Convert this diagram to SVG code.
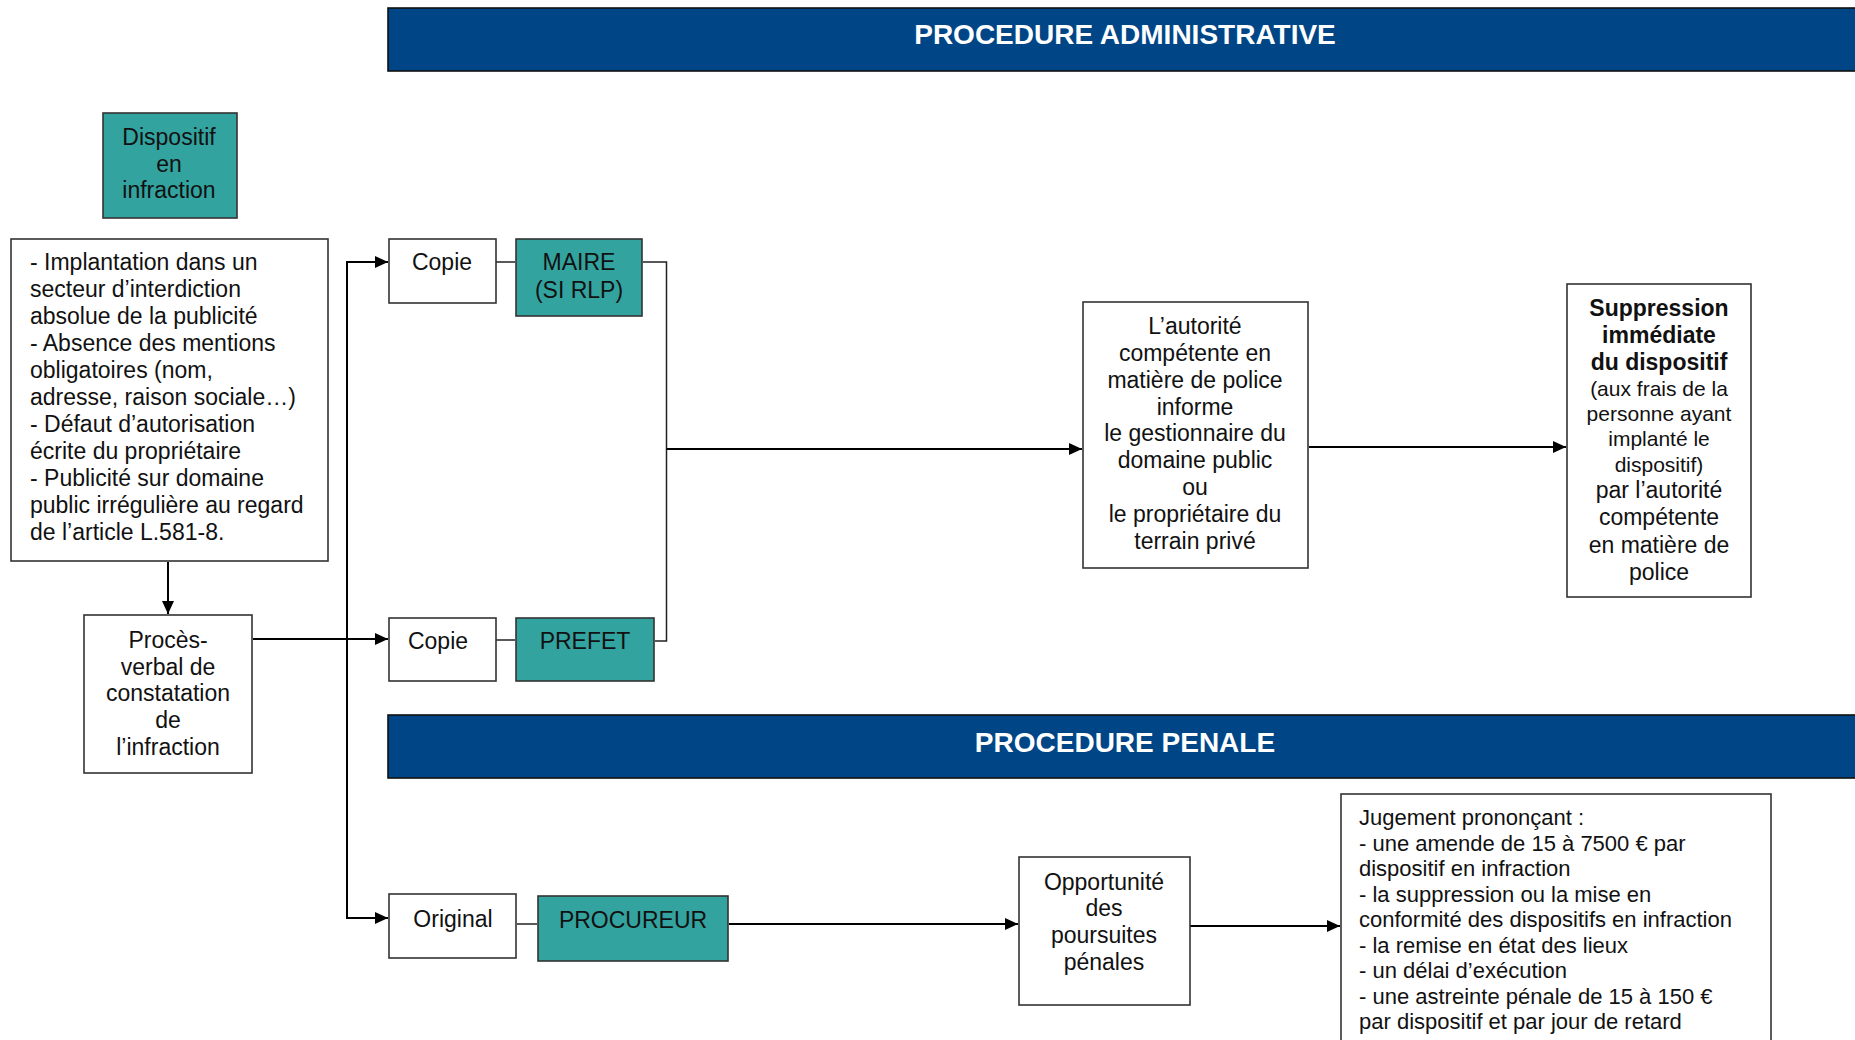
<svg xmlns="http://www.w3.org/2000/svg" width="1855" height="1040" viewBox="0 0 1855 1040">
<defs>
<marker id="arr" markerUnits="userSpaceOnUse" markerWidth="14" markerHeight="14" refX="13" refY="7" orient="auto">
<path d="M0,1 L13,7 L0,13 Z" fill="#000"/>
</marker>
<style>
.box{fill:#fff;stroke:#333;stroke-width:1.6}
.teal{fill:#33A39F;stroke:#333;stroke-width:1.6}
.ban{fill:#004687;stroke:#111;stroke-width:1.6}
.t{font-family:"Liberation Sans",Arial,sans-serif;font-size:23px;fill:#111}
.c{text-anchor:middle}
.b{font-weight:bold}
.sm{font-size:21px}
.j{font-size:22px}
.bt{font-family:"Liberation Sans",Arial,sans-serif;font-size:28px;font-weight:bold;fill:#fff;text-anchor:middle}
.ln{fill:none;stroke:#000;stroke-width:2}
.thin{fill:none;stroke:#222;stroke-width:1.5}
</style>
</defs>
<rect width="1855" height="1040" fill="#fff"/>

<g id="banner-admin">
<rect class="ban" x="388" y="8" width="1470" height="63"/>
<text class="bt" x="1125" y="44">PROCEDURE ADMINISTRATIVE</text>
</g>
<g id="banner-penale">
<rect class="ban" x="388" y="715" width="1470" height="63"/>
<text class="bt" x="1125" y="752">PROCEDURE PENALE</text>
</g>

<g id="connectors">
<line class="ln" x1="168" y1="562" x2="168" y2="614" marker-end="url(#arr)"/>
<line class="ln" x1="253" y1="639" x2="388" y2="639" marker-end="url(#arr)"/>
<line class="ln" x1="347" y1="262" x2="347" y2="918"/>
<line class="ln" x1="346" y1="262" x2="388" y2="262" marker-end="url(#arr)"/>
<line class="ln" x1="346" y1="918" x2="388" y2="918" marker-end="url(#arr)"/>
<line class="thin" x1="496" y1="262" x2="515" y2="262"/>
<line class="thin" x1="496" y1="640" x2="515" y2="640"/>
<polyline class="thin" points="643,262 666.5,262 666.5,641 655,641"/>
<line class="ln" x1="666.5" y1="449" x2="1082" y2="449" marker-end="url(#arr)"/>
<line class="ln" x1="1309" y1="447" x2="1566" y2="447" marker-end="url(#arr)"/>
<line class="thin" x1="517" y1="924" x2="537" y2="924"/>
<line class="ln" x1="729" y1="924" x2="1018" y2="924" marker-end="url(#arr)"/>
<line class="ln" x1="1190" y1="926" x2="1340" y2="926" marker-end="url(#arr)"/>
</g>

<g id="dispositif">
<rect class="teal" x="103" y="113" width="134" height="105"/>
<text class="t c" x="169" y="145">Dispositif</text>
<text class="t c" x="169" y="172">en</text>
<text class="t c" x="169" y="198">infraction</text>
</g>

<g id="infractions">
<rect class="box" x="11" y="239" width="317" height="322"/>
<text class="t" x="30" y="270">- Implantation dans un</text>
<text class="t" x="30" y="297">secteur d’interdiction</text>
<text class="t" x="30" y="324">absolue de la publicité</text>
<text class="t" x="30" y="351">- Absence des mentions</text>
<text class="t" x="30" y="378">obligatoires (nom,</text>
<text class="t" x="30" y="405">adresse, raison sociale…)</text>
<text class="t" x="30" y="432">- Défaut d’autorisation</text>
<text class="t" x="30" y="459">écrite du propriétaire</text>
<text class="t" x="30" y="486">- Publicité sur domaine</text>
<text class="t" x="30" y="513">public irrégulière au regard</text>
<text class="t" x="30" y="540">de l’article L.581-8.</text>
</g>

<g id="proces-verbal">
<rect class="box" x="84" y="615" width="168" height="158"/>
<text class="t c" x="168" y="648">Procès-</text>
<text class="t c" x="168" y="675">verbal de</text>
<text class="t c" x="168" y="701">constatation</text>
<text class="t c" x="168" y="728">de</text>
<text class="t c" x="168" y="755">l’infraction</text>
</g>

<g id="copie-maire">
<rect class="box" x="389" y="239" width="107" height="64"/>
<text class="t c" x="442" y="270">Copie</text>
</g>
<g id="maire">
<rect class="teal" x="516" y="239" width="126" height="77"/>
<text class="t c" x="579" y="270">MAIRE</text>
<text class="t c" x="579" y="298">(SI RLP)</text>
</g>

<g id="copie-prefet">
<rect class="box" x="389" y="618" width="107" height="63"/>
<text class="t c" x="438" y="649">Copie</text>
</g>
<g id="prefet">
<rect class="teal" x="516" y="618" width="138" height="63"/>
<text class="t c" x="585" y="649">PREFET</text>
</g>

<g id="autorite">
<rect class="box" x="1083" y="302" width="225" height="266"/>
<text class="t c" x="1195" y="334">L’autorité</text>
<text class="t c" x="1195" y="361">compétente en</text>
<text class="t c" x="1195" y="388">matière de police</text>
<text class="t c" x="1195" y="415">informe</text>
<text class="t c" x="1195" y="441">le gestionnaire du</text>
<text class="t c" x="1195" y="468">domaine public</text>
<text class="t c" x="1195" y="495">ou</text>
<text class="t c" x="1195" y="522">le propriétaire du</text>
<text class="t c" x="1195" y="549">terrain privé</text>
</g>

<g id="suppression">
<rect class="box" x="1567" y="284" width="184" height="313"/>
<text class="t c b" x="1659" y="316">Suppression</text>
<text class="t c b" x="1659" y="343">immédiate</text>
<text class="t c b" x="1659" y="370">du dispositif</text>
<text class="t c sm" x="1659" y="396">(aux frais de la</text>
<text class="t c sm" x="1659" y="421">personne ayant</text>
<text class="t c sm" x="1659" y="446">implanté le</text>
<text class="t c sm" x="1659" y="472">dispositif)</text>
<text class="t c" x="1659" y="498">par l’autorité</text>
<text class="t c" x="1659" y="525">compétente</text>
<text class="t c" x="1659" y="553">en matière de</text>
<text class="t c" x="1659" y="580">police</text>
</g>

<g id="original">
<rect class="box" x="389" y="894" width="127" height="64"/>
<text class="t c" x="453" y="927">Original</text>
</g>
<g id="procureur">
<rect class="teal" x="538" y="896" width="190" height="65"/>
<text class="t c" x="633" y="928">PROCUREUR</text>
</g>

<g id="opportunite">
<rect class="box" x="1019" y="857" width="171" height="148"/>
<text class="t c" x="1104" y="890">Opportunité</text>
<text class="t c" x="1104" y="916">des</text>
<text class="t c" x="1104" y="943">poursuites</text>
<text class="t c" x="1104" y="970">pénales</text>
</g>

<g id="jugement">
<rect class="box" x="1341" y="794" width="430" height="260"/>
<text class="t j" x="1359" y="825">Jugement prononçant :</text>
<text class="t j" x="1359" y="851">- une amende de 15 à 7500 € par</text>
<text class="t j" x="1359" y="876">dispositif en infraction</text>
<text class="t j" x="1359" y="902">- la suppression ou la mise en</text>
<text class="t j" x="1359" y="927">conformité des dispositifs en infraction</text>
<text class="t j" x="1359" y="953">- la remise en état des lieux</text>
<text class="t j" x="1359" y="978">- un délai d’exécution</text>
<text class="t j" x="1359" y="1004">- une astreinte pénale de 15 à 150 €</text>
<text class="t j" x="1359" y="1029">par dispositif et par jour de retard</text>
</g>
</svg>
